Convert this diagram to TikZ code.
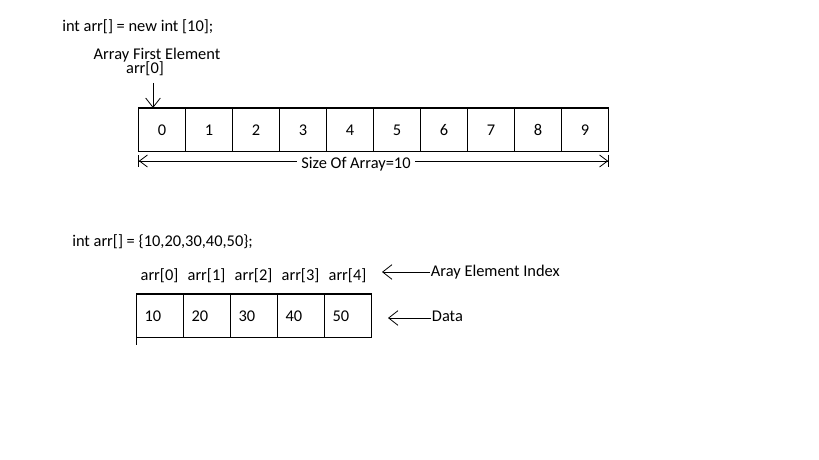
\documentclass[tikz,border=0pt]{standalone}
\usepackage{fontspec}
\setmainfont{Carlito}
\usetikzlibrary{positioning,arrows.meta}

\tikzset{
  cell/.style={draw, line width=0.75pt, minimum width=35.25pt, minimum height=32.25pt, inner sep=0pt, anchor=north west},
  datacell/.style={cell, text width=23.25pt, inner xsep=6pt, align=left},
  barb/.style={-{Straight Barb[length=7pt, width=11pt]}, line width=0.6pt}
}

\begin{document}
\begin{tikzpicture}[x=0.75pt, y=-0.75pt, every node/.style={font=\fontsize{12.3}{14}\selectfont}]
  \useasboundingbox (0,0) rectangle (819,460);

  % first declaration
  \node[anchor=west, inner xsep=0pt] (decl1) at (62,27) {int arr[] = new int [10];};
  \node (first) at (157,55) {Array First Element};
  \node (idx0) at (145,69) {arr[0]};

  % array of ten
  \foreach \i in {0,...,9}
    \node[cell] (c\i) at ({138+47*\i},108) {\i};
  \draw[line width=1.5pt] (c0.north west) -- (c9.north east);
  \coordinate (down) at (153,83);
  \draw[barb] (down) -- (down |- c0.north);

  % size marker
  \coordinate (sl) at ([yshift=-6.75pt]c0.south west);
  \coordinate (sr) at ([yshift=-6.75pt]c9.south east);
  \node (size) at (356,164) {Size Of Array=10};
  \draw[line width=0.6pt, {Bar[width=9pt]Straight Barb[length=6pt, width=9pt]}-] (sl) -- (size.west |- sl);
  \draw[line width=0.6pt, -{Straight Barb[length=6pt, width=9pt]Bar[width=9pt]}] (size.east |- sr) -- (sr);

  % second declaration
  \node[anchor=west, inner xsep=0pt] (decl2) at (72,242) {int arr[] = \{10,20,30,40,50\};};

  % array of five
  \foreach \i/\v in {0/10,1/20,2/30,3/40,4/50} {
    \node[datacell] (d\i) at ({136+47*\i},294) {\v};
    \node (i\i) at ({159.5+47*\i},276) {arr[\i]};
  }
  \draw[line width=1.5pt] (d0.north west) -- (d4.north east);
  \draw[line width=0.75pt] (d0.south west) -- ++(0,7);

  % labels
  \node[anchor=west, inner xsep=0.5pt] (index) at (430,272) {Aray Element Index};
  \coordinate (ia) at (382,272);
  \draw[barb] (index.west) -- (ia);
  \node[anchor=west, inner xsep=0.5pt] (data) at (431,316) {Data};
  \coordinate (da) at (388,318);
  \draw[barb] (data.west |- da) -- (da);
\end{tikzpicture}
\end{document}
